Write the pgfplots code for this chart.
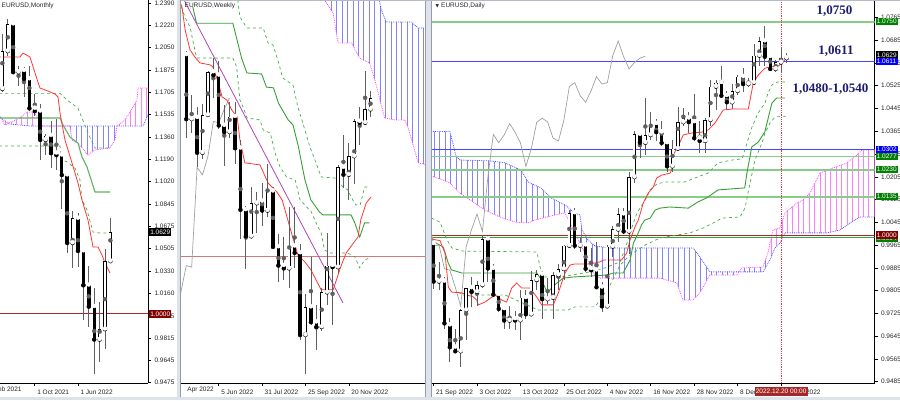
\documentclass[border=0pt]{standalone}
\usepackage{pgfplots}
\pgfplotsset{compat=1.18}
\usepackage{pgfplotstable}
\usetikzlibrary{patterns.meta}
\usepackage{fontspec}
\setmainfont{Liberation Sans}
\newfontfamily\lserif{Liberation Serif}
\newfontfamily\dejavu{DejaVu Sans}

\definecolor{hgreen}{RGB}{135,205,135}
\definecolor{hblue}{RGB}{70,70,255}
\definecolor{hdred}{RGB}{170,40,40}
\definecolor{tenkan}{RGB}{255,55,55}
\definecolor{kijun}{RGB}{55,160,55}
\definecolor{dgreen}{RGB}{70,175,70}
\definecolor{cblue}{RGB}{80,80,255}
\definecolor{cmag}{RGB}{255,70,255}
\definecolor{chikou}{RGB}{160,160,160}
\definecolor{navytext}{RGB}{28,28,110}
\definecolor{boxgreen}{RGB}{0,128,0}
\definecolor{boxblue}{RGB}{0,0,255}
\definecolor{boxred}{RGB}{128,0,0}
\definecolor{timebox}{RGB}{165,40,40}
\definecolor{wick}{RGB}{95,95,95}
\definecolor{trendp}{RGB}{175,70,185}
\definecolor{sepfill}{RGB}{222,226,234}
\definecolor{sepline}{RGB}{150,155,170}
\definecolor{wkred}{RGB}{210,120,120}
\definecolor{vline}{RGB}{230,60,60}

\newcommand{\tfont}{\fontsize{6.5}{7}\selectfont}

% #1 table, #2 x column, #3 outline (price), #4 min body (price)
\newcommand{\candles}[4]{%
\addplot[wick, forget plot, only marks, mark=none, error bars/.cd, y dir=both, y explicit, error mark=none,
  error bar style={line width=0.8pt, color=wick}]
  table[x=#2, y expr={(\thisrow{h}+\thisrow{l})/2}, y error expr={(\thisrow{h}-\thisrow{l})/2}] {#1};
\addplot[black, forget plot, only marks, mark=none, error bars/.cd, y dir=plus, y explicit, error mark=none,
  error bar style={line width=3.4pt, color=black}]
  table[x=#2, y expr={min(\thisrow{o},\thisrow{c})}, y error expr={max(abs(\thisrow{c}-\thisrow{o}),#4)}] {#1};
\addplot[white, forget plot, only marks, mark=none, error bars/.cd, y dir=plus, y explicit, error mark=none,
  error bar style={line width=2.0pt, color=white}]
  table[x=#2, y expr={\thisrow{o}+#3}, y error expr={max(\thisrow{c}-\thisrow{o}-2*#3,0)}] {#1};
}

\pgfplotstableread{
m o h l c
-15 1.2075 1.2114 1.1704 1.1730
-14 1.1730 1.2150 1.1704 1.2020
-13 1.2020 1.2266 1.1986 1.2228
-12 1.2228 1.2254 1.1847 1.1858
-11 1.1858 1.1909 1.1752 1.1870
-10 1.1870 1.1900 1.1664 1.1806
-9 1.1806 1.1909 1.1563 1.1580
-8 1.1580 1.1692 1.1524 1.1558
-7 1.1558 1.1616 1.1186 1.1337
-6 1.1337 1.1386 1.1222 1.1370
-5 1.1370 1.1482 1.1121 1.1235
-4 1.1235 1.1495 1.1106 1.1220
-3 1.1220 1.1233 1.0806 1.1067
-2 1.1067 1.1076 1.0470 1.0545
-1 1.0545 1.0787 1.0349 1.0734
0 1.0734 1.0773 1.0359 1.0483
1 1.0483 1.0486 0.9952 1.0220
2 1.0220 1.0368 0.9901 1.0055
3 1.0055 1.0198 0.9536 0.9802
4 0.9802 1.0094 0.9632 0.9882
5 0.9882 1.0497 0.9730 1.0405
6 1.0405 1.0736 1.0393 1.0629
}\mdata

\pgfplotstableread{
w o h l c
-22 1.0800 1.0815 1.0470 1.0545
-21 1.0545 1.0641 1.0490 1.0551
-20 1.0551 1.0593 1.0354 1.0412
-19 1.0412 1.0607 1.0389 1.0562
-18 1.0562 1.0737 1.0555 1.0732
-17 1.0732 1.0787 1.0627 1.0719
-16 1.0719 1.0774 1.0508 1.0520
-15 1.0520 1.0601 1.0359 1.0494
-14 1.0494 1.0614 1.0470 1.0555
-13 1.0555 1.0615 1.0366 1.0430
-12 1.0430 1.0464 1.0072 1.0186
-11 1.0186 1.0200 0.9952 1.0081
-10 1.0081 1.0278 1.0080 1.0212
-9 1.0212 1.0258 1.0096 1.0220
-8 1.0220 1.0293 1.0123 1.0183
-7 1.0183 1.0368 1.0157 1.0260
-6 1.0260 1.0275 1.0033 1.0039
-5 1.0039 1.0090 0.9900 0.9965
-4 0.9965 1.0079 0.9910 0.9954
-3 0.9954 1.0198 0.9876 1.0042
-2 1.0042 1.0197 0.9956 1.0015
-1 1.0015 1.0050 0.9669 0.9690
0 0.9690 0.9853 0.9536 0.9801
1 0.9801 0.9999 0.9729 0.9741
2 0.9741 0.9809 0.9631 0.9722
3 0.9722 0.9876 0.9705 0.9859
4 0.9859 1.0094 0.9808 0.9965
5 0.9965 0.9977 0.9730 0.9959
6 0.9959 1.0365 0.9935 1.0354
7 1.0354 1.0481 1.0271 1.0325
8 1.0325 1.0449 1.0223 1.0398
9 1.0398 1.0545 1.0290 1.0536
10 1.0536 1.0595 1.0443 1.0531
11 1.0531 1.0737 1.0522 1.0584
12 1.0584 1.0658 1.0555 1.0629
}\wdata

\pgfplotstableread{
d o h l c
0 0.9970 0.9976 0.9810 0.9837
1 0.9837 0.9906 0.9807 0.9838
2 0.9838 0.9852 0.9669 0.9690
3 0.9684 0.9709 0.9553 0.9606
4 0.9606 0.9671 0.9591 0.9592
5 0.9592 0.9739 0.9536 0.9737
6 0.9737 0.9815 0.9633 0.9815
7 0.9815 0.9853 0.9749 0.9801
8 0.9801 0.9839 0.9750 0.9825
9 0.9825 0.9999 0.9815 0.9986
10 0.9986 0.9998 0.9836 0.9883
11 0.9883 0.9899 0.9782 0.9791
12 0.9791 0.9801 0.9730 0.9741
13 0.9741 0.9751 0.9670 0.9700
14 0.9700 0.9750 0.9670 0.9706
15 0.9706 0.9732 0.9667 0.9701
16 0.9701 0.9807 0.9632 0.9780
17 0.9780 0.9809 0.9705 0.9722
18 0.9722 0.9874 0.9720 0.9843
19 0.9843 0.9876 0.9808 0.9862
20 0.9862 0.9874 0.9705 0.9775
21 0.9775 0.9848 0.9758 0.9780
22 0.9780 0.9871 0.9705 0.9860
23 0.9860 0.9900 0.9807 0.9881
24 0.9881 0.9966 0.9844 0.9963
25 0.9963 1.0089 0.9955 1.0078
26 1.0078 1.0094 0.9952 0.9963
27 0.9963 0.9992 0.9940 0.9965
28 0.9965 0.9977 0.9871 0.9882
29 0.9882 0.9954 0.9852 0.9877
30 0.9877 0.9976 0.9813 0.9817
31 0.9817 0.9836 0.9730 0.9750
32 0.9750 0.9966 0.9745 0.9960
33 0.9960 1.0033 0.9925 1.0020
34 1.0020 1.0094 0.9977 1.0074
35 1.0074 1.0096 1.0005 1.0013
36 1.0013 1.0222 0.9935 1.0204
37 1.0204 1.0365 1.0185 1.0354
38 1.0354 1.0362 1.0271 1.0325
39 1.0325 1.0481 1.0283 1.0352
40 1.0352 1.0434 1.0335 1.0392
41 1.0392 1.0407 1.0332 1.0362
42 1.0362 1.0400 1.0314 1.0324
43 1.0324 1.0330 1.0223 1.0242
44 1.0242 1.0334 1.0223 1.0304
45 1.0304 1.0449 1.0298 1.0397
46 1.0397 1.0448 1.0385 1.0411
47 1.0411 1.0434 1.0360 1.0398
48 1.0398 1.0497 1.0330 1.0341
49 1.0341 1.0402 1.0290 1.0331
50 1.0331 1.0412 1.0290 1.0405
51 1.0405 1.0545 1.0384 1.0522
52 1.0522 1.0545 1.0440 1.0536
53 1.0536 1.0595 1.0482 1.0490
54 1.0490 1.0506 1.0444 1.0467
55 1.0467 1.0532 1.0443 1.0507
56 1.0507 1.0563 1.0492 1.0557
57 1.0557 1.0588 1.0504 1.0531
58 1.0531 1.0551 1.0522 1.0536
59 1.0536 1.0673 1.0528 1.0631
60 1.0631 1.0695 1.0596 1.0682
61 1.0682 1.0736 1.0594 1.0627
62 1.0627 1.0637 1.0583 1.0584
63 1.0584 1.0614 1.0575 1.0607
64 1.0607 1.0657 1.0575 1.0622
65 1.0622 1.0640 1.0604 1.0629
}\ddata

\tikzset{
  lab/.style={anchor=west, text=white, font=\tfont, inner xsep=1.3pt, inner ysep=0.6pt, minimum height=7.4pt, xshift=0.8pt},
}
\pgfplotsset{
  mt4/.style={scale only axis,
    axis x line*=bottom, axis y line*=right,
    axis line style={black, line width=0.6pt},
    every tick/.style={black, line width=0.6pt},
    major tick length=3pt, tick align=outside, minor tick num=0,
    ticklabel style={font=\tfont, text=black!85},
    /pgf/number format/assume math mode=true,
    /pgf/number format/fixed, /pgf/number format/fixed zerofill,
    /pgf/number format/precision=4,
    scaled y ticks=false,
    xticklabel style={anchor=north west, xshift=-1pt},
    yticklabel style={anchor=west},
  },
  hat/.style={draw=none, forget plot, pattern={Lines[angle=90,distance=5.43pt,line width=0.7pt]}, pattern color=#1!70},
}

\begin{document}
\begin{tikzpicture}[x=1pt,y=1pt]
\path[use as bounding box] (0,0) rectangle (900,400);
\fill[white] (0,0) rectangle (900,400);
\begin{scope}
\clip (0,0) rectangle (900,400);

% ================= MONTHLY =================
\begin{axis}[mt4, at={(0pt,17pt)}, anchor=south west, width=148pt, height=383pt,
  xmin=-14.44, xmax=12.96, ymin=0.9468, ymax=1.2413,
  xtick={-8,0}, xticklabels={1 Oct 2021,1 Jun 2022},
  ytick={0.9475,0.9645,0.9815,0.9985,1.0160,1.0330,1.0505,1.0675,1.0845,1.1020,1.1190,1.1360,1.1535,1.1705,1.1875,1.2050,1.2220,1.2390},
  after end axis/.code={
    \node[lab, fill=black] at (axis cs:12.96,1.0629) {1.0629};
    \node[lab, fill=boxred] at (axis cs:12.96,1.0000) {1.0000};
    \node[anchor=north west, font=\tfont, text=black!85, xshift=-1pt] at (axis cs:-16,0.9468) {Feb 2021};
  }]
\addplot[hat=cmag] coordinates {(-14.6,1.1513)(-12.59,1.1459)(-8.89,1.1444)(-6.67,1.1444)(-7.41,1.1513)(-8.33,1.1552)(-9.44,1.1552)(-10.74,1.1506)(-13.52,1.1452)(-14.6,1.1529)} -- cycle;
\addplot[hat=cblue] coordinates {(-6.67,1.1444)(7.22,1.1444)(6.85,1.1336)(5.93,1.1275)(3.15,1.1260)(1.85,1.1221)(0,1.1313)(-1.11,1.1336)(-1.48,1.1444)} -- cycle;
\addplot[hat=cmag] coordinates {(7.22,1.1444)(12.04,1.1444)(13.1,1.1544)(13.1,1.1736)(11.11,1.1736)(10.93,1.1644)(9.63,1.1552)(8.70,1.1490)} -- cycle;
\addplot[cblue, densely dotted, line width=0.8pt] coordinates {(-14.6,1.1513)(-12.59,1.1459)(-8.89,1.1444)(12.04,1.1444)(13.1,1.1544)};
\addplot[cmag, densely dotted, line width=0.8pt] coordinates {(-14.6,1.1529)(-13.52,1.1452)(-10.74,1.1506)(-9.44,1.1552)(-8.33,1.1552)(-7.41,1.1513)(-6.67,1.1444)(-1.48,1.1444)(-1.11,1.1336)(0,1.1313)(1.85,1.1221)(3.15,1.1260)(5.93,1.1275)(6.85,1.1336)(7.22,1.1444)(8.70,1.1490)(9.63,1.1552)(10.93,1.1644)(11.11,1.1736)(13.1,1.1736)};
\addplot[hdred, line width=0.9pt] coordinates {(-14.6,1.0) (13.1,1.0)};
\addplot[dgreen, dashed, line width=0.7pt] coordinates {(-14.6,1.1695)(-3.33,1.1695)(-2.04,1.1644)(0,1.1582)(1.85,1.1390)(3.15,1.1275)(5.56,1.1275)};
\addplot[dgreen, dashed, line width=0.7pt] coordinates {(-14.6,1.1290)(-3.33,1.1290)(-3.0,1.1183)(-2.1,1.1170)(-0.56,1.1121)(0.37,1.1029)(0.74,1.0875)(1.67,1.0798)(2.78,1.0629)(4.07,1.0621)(5.93,1.0621)};
\addplot[kijun!80, line width=1.1pt] coordinates {(-14.6,1.1506)(-3.33,1.1506)(-2.78,1.1452)(-1.48,1.1359)(0,1.1313)(0.74,1.1206)(1.67,1.1129)(3.15,1.0937)(5.93,1.0937)};
\addplot[tenkan, line width=0.8pt] coordinates {(-14.6,1.1975)(-10.74,1.1975)(-10.19,1.2005)(-8.89,1.1975)(-7.96,1.1852)(-7.04,1.1736)(-5.56,1.1713)(-4.26,1.1690)(-3.70,1.1667)(-3.33,1.1544)(-2.41,1.1336)(-1.11,1.1160)(0,1.1006)(0.74,1.0875)(1.85,1.0721)(2.78,1.0514)(3.70,1.0514)(4.44,1.0452)(5,1.0391)(5.93,1.0314)};
\candles{\mdata}{m}{0.00054}{0.0008}
\end{axis}

% ================= WEEKLY =================
\begin{axis}[mt4, axis y line=none, ytick=\empty, at={(181pt,17pt)}, anchor=south west, width=244pt, height=383pt,
  xmin=-22.97, xmax=22.05, ymin=0.9500, ymax=1.1017,
  xtick={-16,-8,0,8}, xticklabels={5 Jun 2022,31 Jul 2022,25 Sep 2022,20 Nov 2022},
  after end axis/.code={
    \node[anchor=north west, font=\tfont, text=black!85, xshift=-1pt] at (axis cs:-22.25,0.9500) {Apr 2022};
  }]
\addplot[hat=cblue] coordinates {(2.3,1.1175)(13.4,1.1037)(14.0,1.0977)(14.9,1.0930)(19.5,1.0930)(20.8,1.0906)(22.3,1.0906)(22.3,1.0364)(20.8,1.0372)(18.9,1.0514)(18.3,1.0542)(16.5,1.0542)(14.6,1.0550)(13.4,1.0649)(12.8,1.0700)(11.8,1.0768)(10.0,1.0787)(8.5,1.0847)(6.0,1.0847)(5.1,1.0966)(3.5,1.1017)(2.3,1.1100)} -- cycle;
\addplot[cblue, densely dotted, line width=0.8pt] coordinates {(2.3,1.1175)(13.4,1.1037)(14.0,1.0977)(14.9,1.0930)(19.5,1.0930)(20.8,1.0906)(22.3,1.0906)};
\addplot[cmag, densely dotted, line width=0.8pt] coordinates {(2.3,1.1100)(3.5,1.1017)(5.1,1.0966)(6.0,1.0847)(8.5,1.0847)(10.0,1.0787)(11.8,1.0768)(12.8,1.0700)(13.4,1.0649)(14.6,1.0550)(16.5,1.0542)(18.3,1.0542)(18.9,1.0514)(20.8,1.0372)(22.3,1.0364)};
\addplot[wkred, line width=1.2pt] coordinates {(-23.5,1.0) (22.5,1.0)};
\addplot[dgreen, dashed, line width=0.7pt] coordinates {(-12.5,1.1017)(-12.1,1.0950)(-10.8,1.0906)(-7.8,1.0906)(-6.9,1.0847)(-6.0,1.0839)(-5.1,1.0779)(-4.2,1.0708)(-2.3,1.0680)(-1.4,1.0593)(-0.1,1.0502)(0.8,1.0435)(1.4,1.0403)(2.9,1.0316)(5.4,1.0312)(6.0,1.0304)(6.9,1.0276)(7.8,1.0265)(8.4,1.0237)(9.3,1.0205)(10.1,1.0205)(10.9,1.0276)(11.7,1.0276)};
\addplot[dgreen, dashed, line width=0.7pt] coordinates {(-22.9,1.0990)(-22.2,1.0946)(-21.3,1.0910)(-20.1,1.0787)(-13.4,1.0787)(-12.7,1.0752)(-12.1,1.0621)(-11.5,1.0593)(-10.8,1.0550)(-8.4,1.0542)(-7.8,1.0502)(-6.5,1.0490)(-5.6,1.0411)(-4.7,1.0356)(-3.5,1.0316)(-1.9,1.0304)(-1.0,1.0225)(0.2,1.0197)(1.0,1.0181)(2.3,1.0118)(2.9,1.0094)(3.5,1.0027)(4.5,1.0015)(7.8,1.0015)(9.1,0.9999)(10.0,0.9956)(10.9,0.9987)(11.8,0.9995)};
\addplot[kijun, line width=0.9pt] coordinates {(-20.8,1.0990)(-20.1,1.0925)(-13.4,1.0925)(-11.8,1.0787)(-10.8,1.0728)(-8.1,1.0724)(-7.2,1.0672)(-5.9,1.0669)(-5.0,1.0609)(-3.2,1.0542)(-2.3,1.0522)(-1.3,1.0435)(-0.1,1.0304)(1.0,1.0225)(2.6,1.0177)(3.2,1.0166)(8.4,1.0166)(9.1,1.0134)(10.0,1.0078)(10.9,1.0134)(11.8,1.0134)};
\addplot[chikou, line width=0.7pt] table[x expr={\thisrow{w}-26}, y=c] {\wdata};
\addplot[trendp, line width=0.8pt] coordinates {(-23.5,1.1062)(6.92,0.9817)};
\addplot[tenkan, line width=0.8pt] coordinates {(-23.2,1.1010)(-22.8,1.0990)(-22.2,1.0898)(-21.3,1.0819)(-20.4,1.0791)(-19.5,1.0768)(-17.6,1.0760)(-17.1,1.0752)(-16.1,1.0692)(-15.4,1.0633)(-14.5,1.0621)(-13.6,1.0581)(-12.6,1.0554)(-12.1,1.0463)(-11.2,1.0372)(-8.4,1.0364)(-6.9,1.0292)(-5.3,1.0257)(-4.3,1.0225)(-2.9,1.0118)(-1.4,1.0007)(-0.1,0.9979)(1.0,0.9948)(2.9,0.9869)(5.1,0.9869)(6.5,0.9960)(7.5,1.0015)(9.7,1.0079)(10.2,1.0146)(11.2,1.0213)(12.1,1.0237)};
\candles{\wdata}{w}{0.00028}{0.0004}
\end{axis}

% ================= DAILY =================
\begin{axis}[mt4, at={(432pt,17pt)}, anchor=south west, width=442.5pt, height=383pt,
  xmin=-0.29, xmax=81.2, ymin=0.94805, ymax=1.08263,
  xtick={0,8,16,24,32,40,48,56,64},
  xticklabels={21 Sep 2022,3 Oct 2022,13 Oct 2022,25 Oct 2022,4 Nov 2022,16 Nov 2022,28 Nov 2022,8 Dec 2022,20 Dec 2022},
  ytick={0.9485,0.9565,0.9645,0.9725,0.9805,0.9885,0.9965,1.0045,1.0125,1.0205,1.0285,1.0365,1.0445,1.0525,1.0605,1.0685,1.0765},
  after end axis/.code={
    \node[lab, fill=boxgreen] at (axis cs:81.2,1.0750) {1.0750};
    \node[lab, fill=black] at (axis cs:81.2,1.0633) {1.0629};
    \node[lab, fill=boxblue] at (axis cs:81.2,1.0611) {1.0611};
    \node[lab, fill=boxblue] at (axis cs:81.2,1.0302) {1.0302};
    \node[lab, fill=boxgreen] at (axis cs:81.2,1.0277) {1.0277};
    \node[lab, fill=boxgreen] at (axis cs:81.2,1.0230) {1.0230};
    \node[lab, fill=boxgreen] at (axis cs:81.2,1.0135) {1.0135};
    \node[lab, fill=boxgreen] at (axis cs:81.2,0.9990) {0.9994};
    \node[lab, fill=boxred] at (axis cs:81.2,1.0000) {1.0000};
    \node[fill=timebox, text=white, font=\tfont, inner sep=0pt, minimum width=53pt, minimum height=8.5pt, yshift=-8.5pt] at (axis cs:64,0.94805) {2022.12.20 00:00};
  }]
\addplot[hat=cblue] coordinates {(-0.4,1.0364)(3.02,1.0364)(4.13,1.0278)(4.86,1.0264)(10.39,1.0261)(13.15,1.0254)(16.10,1.0229)(17.38,1.0187)(19.78,1.0166)(21.62,1.0131)(24.20,1.0106)(26.04,1.0078)(26.96,1.0071)(27.33,1.0018)(28.43,0.9983)(29.72,0.9962)(32.49,0.9955)(47.78,0.9955)(49.06,0.9923)(50.91,0.9871)(60.67,0.9871)(61.6,0.9902)(61.6,0.9940)(61.57,0.9937)(60.65,0.9888)(56.78,0.9885)(55.86,0.9860)(50.88,0.9860)(49.04,0.9797)(47.75,0.9772)(45.91,0.9772)(44.81,0.9832)(41.69,0.9849)(30.64,0.9849)(29.17,0.9871)(27.88,0.9937)(26.04,1.0008)(24.20,1.0078)(22.36,1.0071)(18.67,1.0053)(17.38,1.0043)(14.99,1.0046)(12.78,1.0060)(10.57,1.0078)(8.55,1.0099)(6.70,1.0124)(4.86,1.0148)(3.02,1.0183)(1.73,1.0194)(-0.4,1.0208)} -- cycle;
\addplot[hat=cmag] coordinates {(61.6,0.9902)(61.95,0.9913)(62.87,0.9955)(63.79,0.9972)(64.71,1.0008)(72.45,1.0008)(74.84,1.0018)(76.68,1.0043)(78.53,1.0064)(81.4,1.0064)(81.4,1.0299)(78.89,1.0299)(77.97,1.0282)(76.13,1.0254)(73.55,1.0236)(71.15,1.0218)(69.31,1.0148)(68.02,1.0124)(66.91,1.0113)(64.70,1.0078)(63.78,1.0025)(62.49,1.0018)(61.6,0.9940)} -- cycle;
\addplot[cblue, densely dotted, line width=0.8pt] coordinates {(-0.4,1.0364)(3.02,1.0364)(4.13,1.0278)(4.86,1.0264)(10.39,1.0261)(13.15,1.0254)(16.10,1.0229)(17.38,1.0187)(19.78,1.0166)(21.62,1.0131)(24.20,1.0106)(26.04,1.0078)(26.96,1.0071)(27.33,1.0018)(28.43,0.9983)(29.72,0.9962)(32.49,0.9955)(47.78,0.9955)(49.06,0.9923)(50.91,0.9871)(60.67,0.9871)(61.95,0.9913)(62.87,0.9955)(63.79,0.9972)(64.71,1.0008)(72.45,1.0008)(74.84,1.0018)(76.68,1.0043)(78.53,1.0064)(81.4,1.0064)};
\addplot[cmag, densely dotted, line width=0.8pt] coordinates {(-0.4,1.0208)(1.73,1.0194)(3.02,1.0183)(4.86,1.0148)(6.70,1.0124)(8.55,1.0099)(10.57,1.0078)(12.78,1.0060)(14.99,1.0046)(17.38,1.0043)(18.67,1.0053)(22.36,1.0071)(24.20,1.0078)(26.04,1.0008)(27.88,0.9937)(29.17,0.9871)(30.64,0.9849)(41.69,0.9849)(44.81,0.9832)(45.91,0.9772)(47.75,0.9772)(49.04,0.9797)(50.88,0.9860)(55.86,0.9860)(56.78,0.9885)(60.65,0.9888)(61.57,0.9937)(62.49,1.0018)(63.78,1.0025)(64.70,1.0078)(66.91,1.0113)(68.02,1.0124)(69.31,1.0148)(71.15,1.0218)(73.55,1.0236)(76.13,1.0254)(77.97,1.0282)(78.89,1.0299)(81.4,1.0299)};
% horizontal levels
\addplot[hgreen, line width=1.6pt] coordinates {(-1,1.0750)(82,1.0750)};
\addplot[hblue, line width=1pt] coordinates {(-1,1.0611)(82,1.0611)};
\addplot[hblue, line width=1pt] coordinates {(-1,1.0302)(82,1.0302)};
\addplot[hgreen, line width=1.6pt] coordinates {(-1,1.0277)(82,1.0277)};
\addplot[hgreen, line width=1.6pt] coordinates {(-1,1.0230)(82,1.0230)};
\addplot[hgreen, line width=1.6pt] coordinates {(-1,1.0135)(82,1.0135)};
\addplot[kijun, line width=0.9pt] coordinates {(-1,0.9992)(82,0.9992)};
\addplot[hdred, line width=0.9pt] coordinates {(-1,1.0000)(82,1.0000)};
% ichimoku lines
\addplot[dgreen, dashed, line width=0.7pt] coordinates {(-0.4,1.0060)(1.18,1.0046)(2.47,0.9983)(3.39,0.9955)(5.41,0.9944)(19.04,0.9941)(19.60,0.9888)(20.33,0.9853)(23.46,0.9853)(28.80,0.9871)(31.57,0.9885)(34.33,0.9906)(35.62,0.9972)(36.54,1.0029)(37.46,1.0078)(39.30,1.0134)(39.85,1.0159)(41.14,1.0180)(42.62,1.0187)(46.30,1.0187)(48.14,1.0201)(50.53,1.0218)(52.38,1.0254)(54.95,1.0264)(56.80,1.0268)(57.72,1.0324)(58.64,1.0380)(59.75,1.0429)(61.03,1.0464)(61.59,1.0500)(62.32,1.0528)(63.24,1.0538)(65.27,1.0538)};
\addplot[dgreen, dashed, line width=0.7pt] coordinates {(4.5,0.9800)(5.41,0.9790)(13.15,0.9790)(19.23,0.9737)(24.75,0.9737)(26.04,0.9748)(29.72,0.9748)(30.64,0.9772)(32.52,0.9825)(34.33,0.9895)(36.17,0.9930)(38.93,0.9965)(41.69,0.9990)(47.22,1.0008)(49.61,1.0025)(51.82,1.0046)(53.11,1.0060)(56.43,1.0064)(57.35,1.0095)(58.27,1.0183)(59.19,1.0264)(60.48,1.0324)(61.03,1.0359)(61.95,1.0394)(62.87,1.0415)(65.27,1.0419)};
\addplot[kijun, line width=0.9pt] coordinates {(-0.4,0.9981)(1.8,0.9958)(2.7,0.9902)(3.3,0.9878)(5.2,0.9867)(19.0,0.9867)(19.9,0.9842)(20.8,0.9804)(21.4,0.9807)(22.7,0.9832)(23.9,0.9849)(25.7,0.9853)(31.9,0.9860)(33.1,0.9867)(34.9,0.9867)(36.2,0.9913)(36.8,0.9972)(37.7,1.0008)(38.3,1.0036)(38.9,1.0053)(39.9,1.0060)(40.8,1.0088)(41.7,1.0095)(43.5,1.0099)(46.9,1.0095)(48.7,1.0117)(50.3,1.0131)(52.4,1.0159)(57.3,1.0166)(57.7,1.0218)(58.6,1.0310)(59.8,1.0327)(61.0,1.0363)(62.3,1.0464)(63.2,1.0482)(64.7,1.0482)};
\addplot[chikou, line width=0.7pt] table[x expr={\thisrow{d}-26}, y=c] {\ddata};
\addplot[tenkan, line width=0.8pt] coordinates {(-0.4,0.9986)(1.18,0.9981)(2.10,0.9937)(2.71,0.9818)(3.33,0.9800)(5.17,0.9797)(6.10,0.9790)(7.31,0.9783)(7.94,0.9772)(8.23,0.9755)(9.47,0.9765)(11.31,0.9790)(12.54,0.9772)(13.46,0.9765)(14.38,0.9814)(15.30,0.9832)(16.22,0.9814)(17.75,0.9814)(18.99,0.9783)(19.91,0.9755)(22.04,0.9755)(22.97,0.9797)(24.20,0.9867)(25.12,0.9895)(26.04,0.9899)(28.80,0.9899)(30.64,0.9906)(31.25,0.9913)(34.64,0.9913)(35.56,0.9937)(36.17,0.9983)(37.09,1.0029)(37.70,1.0053)(38.62,1.0113)(39.54,1.0148)(40.46,1.0169)(41.09,1.0201)(42.01,1.0211)(43.54,1.0218)(43.85,1.0229)(44.14,1.0282)(44.95,1.0310)(45.98,1.0352)(47.53,1.0359)(49.37,1.0362)(50.59,1.0370)(51.82,1.0394)(53.35,1.0440)(54.90,1.0443)(57.96,1.0443)(58.88,1.0535)(59.80,1.0563)(61.03,1.0587)(61.95,1.0591)(63.48,1.0594)(64.71,1.0616)};
\addplot[vline, densely dotted, line width=0.8pt] coordinates {(64,0.94) (64,1.09)};
\candles{\ddata}{d}{0.00025}{0.00035}
\end{axis}
\end{scope}

% separators and frame
\fill[sepfill] (176.5,0) rectangle (181,400);
\draw[sepline, line width=0.6pt] (180.7,0) -- (180.7,400);
\fill[sepfill] (425,0) rectangle (431.8,400);
\draw[sepline, line width=0.6pt] (425.3,0) -- (425.3,400);
\draw[sepline, line width=0.6pt] (431.5,0) -- (431.5,400);
\fill[sepfill] (0,0) rectangle (900,3.3);
\draw[sepline!70, line width=0.8pt] (181,399.6) -- (900,399.6);

% titles
\node[anchor=west, font=\tfont, text=black!85, inner sep=0pt] at (1.5,394.5) {EURUSD,Monthly};
\node[anchor=west, font=\tfont, text=black!85, inner sep=0pt] at (184.5,394.5) {EURUSD,Weekly};
\node[anchor=west, font=\tfont, text=black!85, inner sep=0pt] at (435.5,394.5) {{\dejavu\fontsize{4.5}{5}\selectfont ▼}\hspace{2pt}EURUSD,Daily};

% annotations
\node[font=\lserif\bfseries\fontsize{13}{14}\selectfont, text=navytext] at (834.5,389) {1,0750};
\node[font=\lserif\bfseries\fontsize{13}{14}\selectfont, text=navytext] at (836,349.3) {1,0611};
\node[font=\lserif\bfseries\fontsize{13}{14}\selectfont, text=navytext] at (830.5,310.7) {1,0480-1,0540};
\end{tikzpicture}
\end{document}
